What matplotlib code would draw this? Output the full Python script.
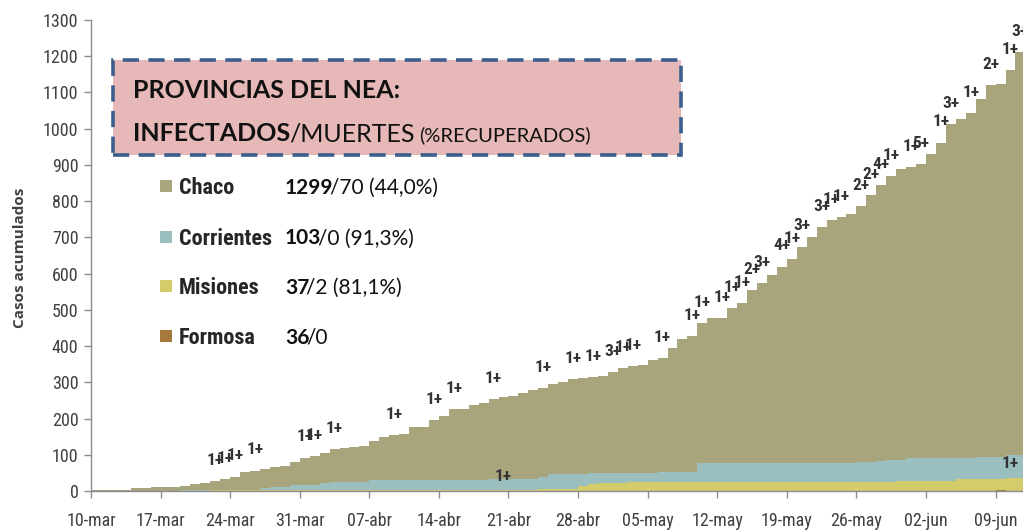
import numpy as np
import matplotlib
matplotlib.use("Agg")
import matplotlib.pyplot as plt
from matplotlib import font_manager as fm
from matplotlib.font_manager import FontProperties
from matplotlib.patches import Rectangle
from matplotlib.transforms import IdentityTransform

# -------------------------------------------------------
# Data (cumulative cases per day, from 10-mar)
# -------------------------------------------------------

chaco = [3, 3, 3, 3, 7, 7, 12, 12, 12, 14,
         18, 21, 27, 32, 40, 52, 56, 60, 65, 69,
         81, 92, 97, 106, 115, 119, 122, 124, 139, 148,
         154, 158, 176, 176, 196, 206, 225, 225, 236, 244,
         254, 260, 262, 270, 279, 284, 294, 302, 308, 311,
         314, 318, 328, 339, 345, 348, 362, 367, 394, 419,
         428, 463, 477, 477, 504, 518, 555, 573, 596, 619,
         640, 674, 702, 728, 748, 755, 764, 787, 817, 845,
         869, 888, 893, 903, 929, 961, 1012, 1027, 1042, 1082,
         1120, 1123, 1162, 1212]

corrientes = [0, 0, 0, 0, 0, 0, 0, 0, 0, 3,
              3, 3, 1, 1, 1, 1, 1, 9, 12, 12,
              17, 17, 17, 21, 25, 25, 25, 25, 30, 30,
              30, 30, 30, 30, 30, 30, 30, 30, 30, 30,
              33, 33, 33, 33, 33, 40, 46, 46, 46, 46,
              49, 49, 49, 49, 49, 49, 49, 52, 52, 52,
              52, 76, 76, 76, 76, 76, 76, 76, 76, 76,
              76, 76, 76, 76, 76, 76, 76, 79, 79, 83,
              86, 86, 91, 91, 91, 91, 91, 91, 91, 95,
              95, 95, 98, 98]

misiones = [0, 0, 0, 0, 0, 0, 0, 0, 0, 0,
            0, 0, 2, 2, 2, 2, 2, 2, 2, 2,
            2, 2, 2, 2, 2, 2, 2, 2, 2, 2,
            2, 2, 2, 2, 2, 2, 2, 2, 2, 2,
            2, 2, 2, 2, 2, 5, 5, 5, 5, 15,
            18, 21, 21, 21, 25, 25, 25, 25, 25, 25,
            25, 25, 25, 25, 25, 25, 25, 25, 25, 25,
            25, 25, 25, 25, 25, 25, 25, 25, 25, 25,
            25, 28, 28, 28, 28, 28, 28, 33, 33, 33,
            33, 33, 37, 37]

formosa = [0, 0, 0, 0, 0, 0, 0, 0, 0, 0,
           0, 0, 0, 0, 0, 0, 0, 0, 0, 0,
           0, 0, 0, 0, 0, 0, 0, 0, 0, 0,
           0, 0, 0, 0, 0, 0, 0, 0, 0, 0,
           0, 0, 0, 0, 0, 0, 0, 0, 0, 0,
           0, 0, 0, 0, 0, 0, 0, 0, 0, 0,
           0, 0, 0, 0, 0, 0, 0, 0, 0, 0,
           0, 0, 0, 0, 0, 0, 0, 0, 0, 0,
           0, 0, 0, 0, 0, 0, 0, 0, 0, 0,
           0, 2, 0, 0]

# deaths labels (day index, text)
chaco_death_days = [12, 13, 14, 16, 21, 22, 24, 30, 34, 36,
                    40, 45, 48, 50, 52, 53, 54, 57, 60, 61,
                    63, 64, 65, 66, 67, 69, 70, 71, 73, 74,
                    75, 77, 78, 79, 80, 82, 83, 85, 86, 88,
                    90, 92, 93]
chaco_death_text = ["1+", "1+", "1+", "1+", "1+", "1+", "1+", "1+", "1+", "1+",
                    "1+", "1+", "1+", "1+", "3+", "1+", "1+", "1+", "1+", "1+",
                    "1+", "1+", "1+", "2+", "3+", "4+", "1+", "3+", "3+", "1+",
                    "1+", "2+", "2+", "4+", "1+", "1+", "5+", "1+", "3+", "1+",
                    "2+", "1+", "3+"]
misiones_death_days = [41, 92]
misiones_death_text = ["1+", "1+"]

tick_labels = ["10-mar", "17-mar", "24-mar", "31-mar", "07-abr", "14-abr", "21-abr",
               "28-abr", "05-may", "12-may", "19-may", "26-may", "02-jun", "09-jun"]

provinces = ["Chaco", "Corrientes", "Misiones", "Formosa"]
infected = ["1299", "103", "37", "36"]
rest = ["/70 (44,0%)", "/0 (91,3%)", "/2 (81,1%)", "/0"]

colors = ["#a8a47c", "#9bbfbe", "#d4cb6a", "#a6793c"]

BODY = ["Lato", "DejaVu Sans"]


def narrow_font():
    for fam in ["Liberation Sans Narrow", "Arial Narrow", "Roboto Condensed"]:
        try:
            fm.findfont(FontProperties(family=fam), fallback_to_default=False)
            return dict(family=[fam, "DejaVu Sans"])
        except Exception:
            pass
    f = fm.findfont(FontProperties(family="DejaVu Sans", stretch="condensed"))
    if "Condensed" in f:
        return dict(family=["DejaVu Sans"], stretch="condensed")
    return dict(family=["Roboto", "DejaVu Sans"])


NARROW = narrow_font()

# -------------------------------------------------------
# Figure
# -------------------------------------------------------

W, H = 1023, 532
fig = plt.figure(figsize=(W / 100, H / 100), dpi=100)
ax = fig.add_axes([91 / W, 1 - 491 / H, 1 - 91 / W, (491 - 20) / H])

edges = np.arange(len(chaco) + 1)
for series, c in zip([chaco, corrientes, misiones, formosa], colors):
    ax.stairs(series, edges, fill=True, color=c, linewidth=0, baseline=0)

ax.set_xlim(0, 93.76)
ax.set_ylim(0, 1300)
ax.set_yticks(range(0, 1301, 100))
ax.set_xticks(np.arange(len(tick_labels)) * 7)
ax.set_xticklabels(tick_labels)

for s in ["top", "right"]:
    ax.spines[s].set_visible(False)
for s in ["left", "bottom"]:
    ax.spines[s].set_color("#8c8c8c")
    ax.spines[s].set_linewidth(1)

ax.tick_params(axis="both", colors="#8c8c8c", labelcolor="#404040",
               length=5, width=1, labelsize=13)
ax.tick_params(axis="x", pad=10)
ax.tick_params(axis="y", pad=4)
for lab in ax.get_xticklabels() + ax.get_yticklabels():
    lab.set_family(NARROW["family"])
    if "stretch" in NARROW:
        lab.set_stretch(NARROW["stretch"])

fig.text(20 / W, 1 - 258 / H, "Casos acumulados", rotation=90, ha="center",
         va="center", fontsize=11, fontweight="bold", color="#404040",
         family=["Open Sans", "DejaVu Sans"])

# death labels
for d, t in zip(chaco_death_days, chaco_death_text):
    ax.annotate(t, (d + 0.5, chaco[d]), xytext=(0, 15), textcoords="offset points",
                ha="center", va="center", fontsize=12.5, fontweight="bold",
                color="#333333", **NARROW)
for d, t in zip(misiones_death_days, misiones_death_text):
    ax.annotate(t, (d + 0.5, misiones[d]), xytext=(0, 10), textcoords="offset points",
                ha="center", va="center", fontsize=12.5, fontweight="bold",
                color="#333333", **NARROW)

# -------------------------------------------------------
# Title box
# -------------------------------------------------------

box = Rectangle((113 / W, 1 - 155 / H), (681 - 113) / W, (155 - 60) / H,
                transform=fig.transFigure, facecolor="#e6b8b7",
                edgecolor="#3b5e8c", linewidth=2.6,
                linestyle=(0, (4.5, 2.6)), zorder=5)
fig.add_artist(box)

px = IdentityTransform()
renderer = fig.canvas.get_renderer()


def write_run(x, y, parts, tight=3):
    for s, kw in parts:
        t = fig.text(x, H - y, s, transform=px, ha="left", va="baseline",
                     zorder=6, **kw)
        x += t.get_window_extent(renderer).width - tight
    return x


write_run(133, 98, [("PROVINCIAS DEL NEA:",
                     dict(fontsize=18, fontweight="bold", color="#111111", family=BODY))])
xx = write_run(133, 141, [("INFECTADOS", dict(fontsize=18, fontweight="bold",
                                              color="#111111", family=BODY)),
                          ("/MUERTES", dict(fontsize=18, color="#111111", family=BODY))],
               tight=1)
write_run(xx + 6, 141, [("(%RECUPERADOS)", dict(fontsize=14.5, color="#111111",
                                                family=BODY))])

# -------------------------------------------------------
# Legend
# -------------------------------------------------------

row_y = [186, 237, 286, 336]
for name, inf, r, c, y in zip(provinces, infected, rest, colors, row_y):
    fig.add_artist(Rectangle((160, H - y - 6), 12, 12, transform=px,
                             facecolor=c, edgecolor="none", zorder=6))
    write_run(179, y + 8, [(name, dict(fontsize=16, fontweight="bold",
                                       color="#262626", **NARROW))])
    write_run(285, y + 7.5, [(inf, dict(fontsize=15, fontweight="bold",
                                        color="#111111", family=BODY)),
                             (r, dict(fontsize=15, color="#111111", family=BODY))])

plt.savefig("out.png", dpi=100)
plt.close()
